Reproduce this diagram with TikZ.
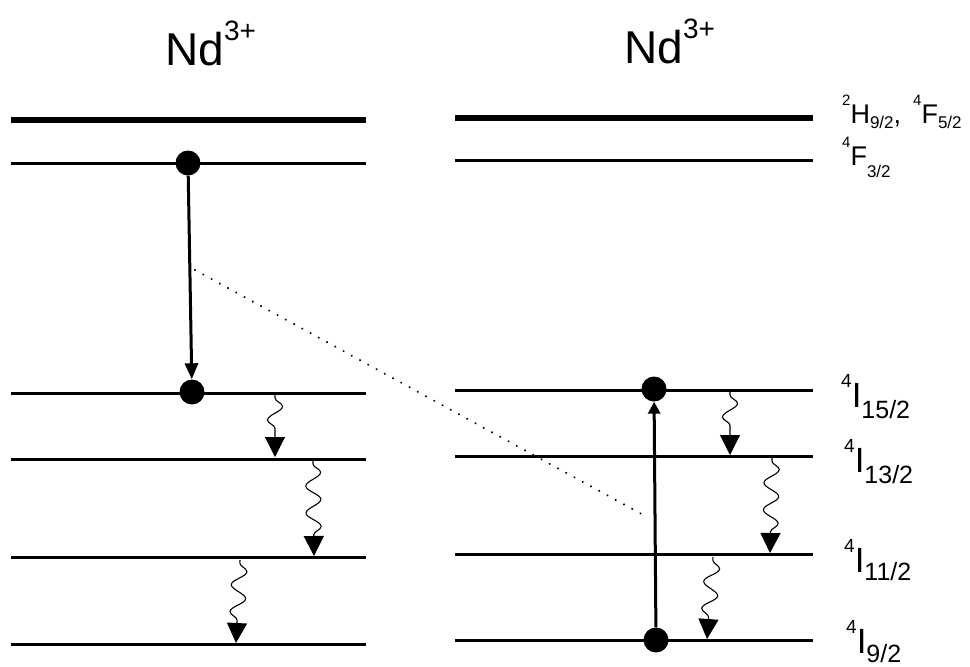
\documentclass[tikz,border=0pt]{standalone}
\usepackage{fontspec}
\setmainfont{Liberation Sans}
\usetikzlibrary{arrows.meta,decorations.pathmorphing}
\newcommand\smalllab[4]{{\fontsize{15}{15}\selectfont\raisebox{18pt}{#1}}{\fontsize{27}{27}\selectfont #2}{\fontsize{17}{17}\selectfont\raisebox{-#4}{#3}}}
\newcommand\biglab[4]{{\fontsize{19}{19}\selectfont\raisebox{20pt}{#1}}{\fontsize{35}{35}\selectfont #2}{\fontsize{25}{25}\selectfont\raisebox{-#4}{#3}}}
\newcommand\ion{{\fontsize{46}{46}\selectfont Nd}{\fontsize{28}{28}\selectfont\raisebox{25pt}{3+}}}
\begin{document}
\begin{tikzpicture}[x=1pt,y=-1pt,
  level/.style={line width=3pt},
  toplevel/.style={line width=5.5pt},
  dot/.style={circle,fill=black,inner sep=0pt,minimum size=25pt},
  lab/.style={anchor=base west,inner sep=0pt},
  bigarrow/.style={line width=3pt,-{Triangle[length=16pt,width=13pt]}},
  uparrow/.style={line width=3pt,-{Triangle[length=12pt,width=12pt]}},
  wavy/.style={line width=1.1pt,decorate,decoration={snake,amplitude=7.5pt,segment length=27pt,pre length=3pt,post length=20pt},-{Triangle[length=20pt,width=20pt]}},
  dotline/.style={line width=2.2pt,line cap=round,dash pattern=on 0.1pt off 9.3pt}]
\useasboundingbox (0,0) rectangle (970,667);
% left levels
\coordinate (La0) at (11,120);  \coordinate (Lb0) at (366,120);
\coordinate (La1) at (11,163);  \coordinate (Lb1) at (366,163);
\coordinate (La2) at (11,393);  \coordinate (Lb2) at (366,393);
\coordinate (La3) at (11,459);  \coordinate (Lb3) at (366,459);
\coordinate (La4) at (11,557);  \coordinate (Lb4) at (366,557);
\coordinate (La5) at (11,644);  \coordinate (Lb5) at (366,644);
% right levels
\coordinate (Ra0) at (455,118); \coordinate (Rb0) at (813,118);
\coordinate (Ra1) at (455,160); \coordinate (Rb1) at (813,160);
\coordinate (Ra2) at (455,390); \coordinate (Rb2) at (813,390);
\coordinate (Ra3) at (455,456); \coordinate (Rb3) at (813,456);
\coordinate (Ra4) at (455,554); \coordinate (Rb4) at (813,554);
\coordinate (Ra5) at (455,640); \coordinate (Rb5) at (813,640);
\draw[toplevel] (La0) -- (Lb0);
\draw[toplevel] (Ra0) -- (Rb0);
\foreach \i in {1,...,5}{
  \draw[level] (La\i) -- (Lb\i);
  \draw[level] (Ra\i) -- (Rb\i);
}
% dots
\node[dot] (d1) at (188,163) {};
\node[dot] (d2) at (192,392) {};
\node[dot] (d3) at (654,389) {};
\node[dot] (d4) at (656,640) {};
\draw[bigarrow] (d1) -- (d2);
\draw[uparrow] (d4) -- (d3);
% dotted line
\coordinate (ds) at (195,270);
\coordinate (de) at (647,517);
\draw[dotline] (ds) -- (de);
% wavy arrows
\coordinate (w1s) at (275,395); \coordinate (w1e) at (275,457);
\coordinate (w2s) at (313,461); \coordinate (w2e) at (314,556);
\coordinate (w3s) at (240,560); \coordinate (w3e) at (236,643);
\coordinate (w4s) at (730,392); \coordinate (w4e) at (730,455);
\coordinate (w5s) at (772,458); \coordinate (w5e) at (770,553);
\coordinate (w6s) at (713,557); \coordinate (w6e) at (707,639);
\foreach \i in {1,...,6}{\draw[wavy] (w\i s) -- (w\i e);}
% labels
\node[lab] (ion1) at (165,65) {\ion};
\node[lab] (ion2) at (624,63) {\ion};
\node[lab] (t0a) at (842,123) {\smalllab{2}{H}{9/2}{5pt}{\fontsize{27}{27}\selectfont,}};
\node[lab] (t0b) at (913,123) {\smalllab{4}{F}{5/2}{5pt}};
\node[lab] (t1) at (842,165) {\smalllab{4}{F}{3/2}{12pt}};
\node[lab] (t2) at (841,407) {\biglab{4}{I}{15/2}{11pt}};
\node[lab] (t3) at (844,472) {\biglab{4}{I}{13/2}{11pt}};
\node[lab] (t4) at (844,572) {\biglab{4}{I}{11/2}{8pt}};
\node[lab] (t5) at (846,653) {\biglab{4}{I}{9/2}{9pt}};
\end{tikzpicture}
\end{document}
